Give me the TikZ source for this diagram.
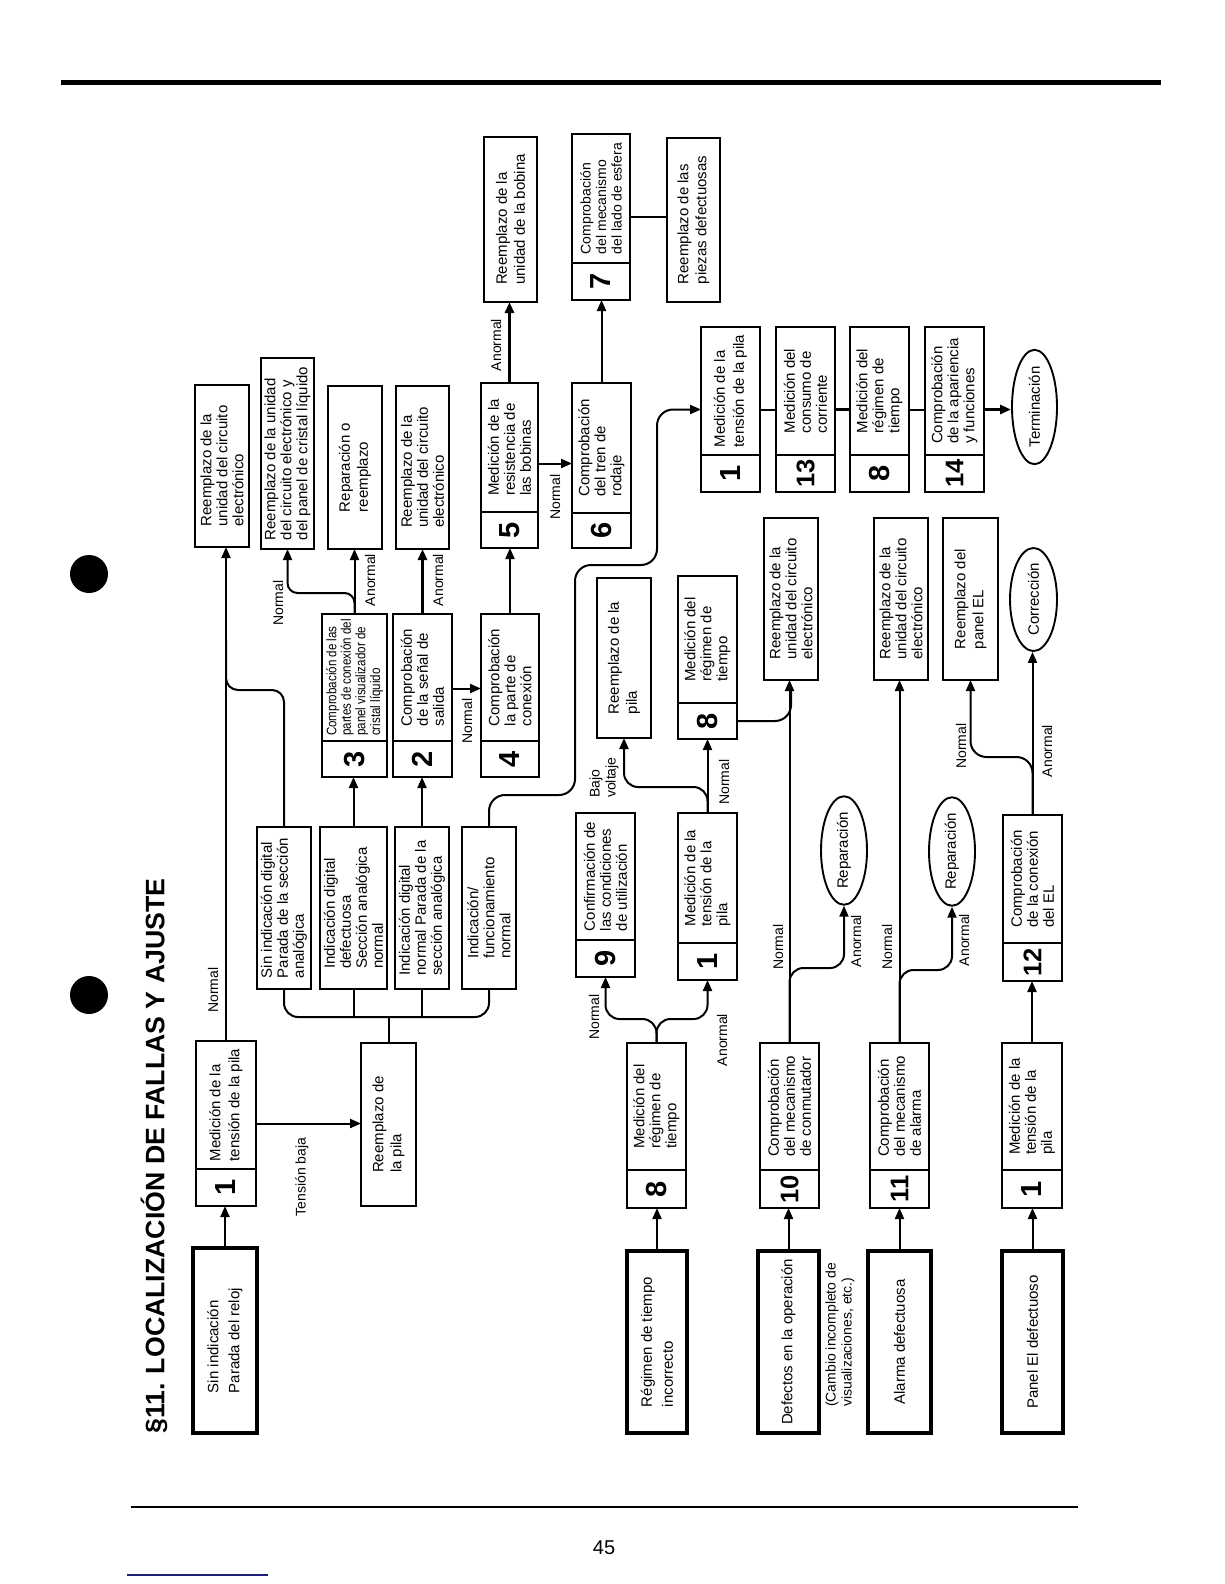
\documentclass[tikz,border=0pt]{standalone}
\usepackage{fontspec}
\setmainfont{Liberation Sans}
\newfontfamily\condf[FakeStretch=0.84]{Liberation Sans}
\usetikzlibrary{arrows.meta,calc,shapes.geometric}
\definecolor{navy}{RGB}{30,30,120}
% plain box: style, name, x1, x2, y1, y2 (page px), text
\newcommand\PB[7]{\node[#1, minimum width={#6-#5}, minimum height={#4-#3}] (#2) at ({-(#5+#6)/2},{-(#3+#4)/2}) {#7};}
% numbered box: name, x1, x2, y1, y2, ydiv, number, text, text style
\newcommand\NB[9]{%
  \node[box, minimum width={#5-#4}, minimum height={#3-#2}] (#1) at ({-(#4+#5)/2},{-(#2+#3)/2}) {};
  \draw[line width=1.9pt] ({-#6},{-#2}) -- ({-#6},{-#3});
  \node[numf] (#1-n) at ({-(#6+#5)/2},{-(#2+#3)/2}) {#7};
  \node[#9] (#1-t) at ({-(#4+#6)/2},{-(#2+#3)/2}) {#8};}
\newcommand\twod[1]{\fontsize{25.5}{26}\selectfont\bfseries #1}
\begin{document}
\begin{tikzpicture}[x=1pt,y=1pt,
  box/.style={draw, line width=1.9pt, rectangle, inner sep=0pt, outer sep=0pt},
  sbox/.style={box, line width=3.6pt, font=\fontsize{15}{21}\selectfont, align=left},
  pbox/.style={box, font=\fontsize{15}{16}\selectfont, align=left},
  pbox2/.style={box, font=\fontsize{15}{18}\selectfont, align=left},
  oval/.style={draw, ellipse, line width=1.9pt, inner sep=0pt, font=\fontsize{15}{16}\selectfont},
  numf/.style={font=\fontsize{29}{29}\selectfont\bfseries, inner sep=0pt},
  t3/.style={font=\fontsize{15}{16}\selectfont, align=left, inner sep=0pt},
  t3s/.style={font=\fontsize{14}{15.5}\selectfont, align=left, inner sep=0pt},
  t2/.style={font=\fontsize{15}{19}\selectfont, align=left, inner sep=0pt},
  tc/.style={font=\condf\fontsize{13.8}{14.6}\selectfont, align=left, inner sep=0pt},
  lab/.style={font=\fontsize{14}{16}\selectfont, inner sep=0pt, align=left},
  conn/.style={line width=2pt},
  arr/.style={conn, -{Triangle[length=11pt,width=9pt]}},
  conntk/.style={line width=3pt},
  arrtk/.style={conntk, -{Triangle[length=11pt,width=9pt]}}]
\fill[white] (0,0) rectangle (1224,-1584);
\useasboundingbox (0,0) rectangle (1224,-1584);
% page decorations
\draw[line width=5pt] (61,-83) -- (1161,-83);
\draw[line width=2.8pt] (131,-1507) -- (1078,-1507);
\node[font=\fontsize{20}{20}\selectfont] (pg) at (604,-1548) {45};
\draw[line width=1.5pt, navy] (127,-1575) -- (268,-1575);
\fill (89,-574) circle (19);
\fill (89,-995) circle (19);

\begin{scope}[rotate=90, transform shape]
\node[font=\fontsize{26.7}{28}\selectfont\bfseries] (title) at (-1156,-154) {§11.\hspace{9pt}LOCALIZACIÓN DE FALLAS Y AJUSTE};

% start boxes
\PB{sbox}{S1}{193}{257}{1248}{1433}{Sin indicación\\Parada del reloj}
\PB{sbox}{S2}{627}{687}{1251}{1433}{Régimen de tiempo\\incorrecto}
\PB{sbox}{S3}{758}{819}{1251}{1433}{Defectos en la operación}
\PB{sbox}{S4}{868}{931}{1251}{1433}{Alarma defectuosa}
\PB{sbox}{S5}{1002}{1063}{1251}{1433}{Panel El defectuoso}

% numbered boxes
\NB{N1a}{196}{256}{1041}{1206}{1169}{1}{Medición de la\\tensión de la pila}{t2}
\NB{N8a}{627}{686}{1043}{1208}{1170}{8}{Medición del\\régimen de\\tiempo}{t3}
\NB{N10}{760}{819}{1043}{1208}{1170}{\twod{10}}{Comprobación\\del mecanismo\\de conmutador}{t3}
\NB{N11}{870}{929}{1043}{1208}{1170}{\twod{11}}{Comprobación\\del mecanismo\\de alarma}{t3}
\NB{N1d}{1002}{1062}{1043}{1208}{1170}{1}{Medición de la\\tensión de la\\pila}{t3}
\NB{N9}{576}{635}{813}{977}{940}{9}{Confirmación de\\las condiciones\\de utilización}{t3}
\NB{N1c}{678}{737}{813}{980}{943}{1}{Medición de la\\tensión de la\\pila}{t3}
\NB{N12}{1003}{1062}{815}{981}{943}{\twod{12}}{Comprobación\\de la conexión\\del EL}{t3}
\NB{N8m}{678}{737}{576}{739}{703}{8}{Medición del\\régimen de\\tiempo}{t3}
\NB{N3}{322}{387}{614}{777}{741}{3}{Comprobación de las\\partes de conexión del\\panel visualizador de\\cristal líquido}{tc}
\NB{N2}{393}{452}{614}{777}{741}{2}{Comprobación\\de la señal de\\salida}{t3}
\NB{N4}{481}{539}{614}{777}{741}{4}{Comprobación\\la parte de\\conexión}{t3}
\NB{N5}{481}{538}{383}{548}{512}{5}{Medición de la\\resistencia de\\las bobinas}{t3}
\NB{N6}{572}{631}{383}{548}{513}{6}{Comprobación\\del tren de\\rodaje}{t3}
\NB{N7}{572}{630}{134}{300}{263}{7}{Comprobación\\del mecanismo\\del lado de esfera}{t3s}
\draw[line width=2.8pt] (N7.north west) rectangle (N7.south east);
\NB{N1b}{701}{760}{327}{492}{455}{1}{Medición de la\\tensión de la pila}{t2}
\NB{N13}{776}{835}{327}{492}{455}{\twod{13}}{Medición del\\consumo de\\corriente}{t3}
\NB{N8b}{850}{909}{327}{492}{455}{8}{Medición del\\régimen de\\tiempo}{t3}
\NB{N14}{925}{984}{327}{492}{455}{\twod{14}}{Comprobación\\de la apariencia\\y funciones}{t3}

% plain boxes
\PB{pbox2}{Rpila1}{361}{416}{1043}{1206}{Reemplazo de\\la pila}
\PB{pbox}{A}{257}{311}{827}{989}{Sin indicación digital\\Parada de la sección\\analógica}
\PB{pbox}{B}{320}{387}{827}{989}{Indicación digital\\defectuosa\\Sección analógica\\normal}
\PB{pbox}{C}{395}{449}{827}{989}{Indicación digital\\normal Parada de la\\sección analógica}
\PB{pbox}{D}{462}{516}{827}{989}{Indicación/\\funcionamiento\\normal}
\PB{pbox}{R1}{195}{249}{385}{547}{Reemplazo de la\\unidad del circuito\\electrónico}
\PB{pbox}{R2}{261}{314}{358}{549}{Reemplazo de la unidad\\del circuito electrónico y\\del panel de cristal líquido}
\PB{pbox2}{R3}{328}{382}{386}{549}{Reparación o\\reemplazo}
\PB{pbox}{R4}{396}{449}{386}{549}{Reemplazo de la\\unidad del circuito\\electrónico}
\PB{pbox2}{RB}{484}{537}{137}{302}{Reemplazo de la\\unidad de la bobina}
\PB{pbox2}{RP}{667}{720}{138}{302}{Reemplazo de las\\piezas defectuosas}
\PB{pbox2}{Rpila2}{597}{651}{578}{738}{Reemplazo de la\\pila}
\PB{pbox}{R5}{764}{818}{518}{680}{Reemplazo de la\\unidad del circuito\\electrónico}
\PB{pbox}{R6}{874}{928}{518}{680}{Reemplazo de la\\unidad del circuito\\electrónico}
\PB{pbox2}{R7}{943}{998}{518}{680}{Reemplazo del\\panel EL}

% ovals
\node[oval, minimum width=104, minimum height=45] (Term) at (-407,-1034.5) {Terminación};
\node[oval, minimum width=103, minimum height=47] (Corr) at (-599.5,-1033.5) {Corrección};
\node[oval, minimum width=95, minimum height=46] (Rep1) at (-850.5,-844) {Reparación};
\node[oval, minimum width=93, minimum height=46] (Rep2) at (-851.5,-952) {Reparación};

% connectors: first row
\draw[arr] (S1.east) -- (N1a.west |- S1.east);
\draw[arr] (N1a.east) -- (R1.west |- N1a.east);
\draw[arr] (N1a.south) -- (N1a.south |- Rpila1.north);
\coordinate (busL) at (-1017,-284);
\coordinate (busR) at (-1017,-489);
\draw[conn, rounded corners=14] (A.west) -- (busL) -- (busR) -- (D.west);
\draw[conn] (B.west) -- (busL |- B.west);
\draw[conn] (C.west) -- (busL |- C.west);
\draw[conn] (Rpila1.east) -- (busL |- Rpila1.east);
\draw[conn, rounded corners=12] (A.east) -- (-690,-284) -- (-690,-226) -- (-640,-226);
\draw[arr] (B.east) -- (N3.west |- B.east);
\draw[arr] (C.east) -- (N2.west |- C.east);
\draw[arr] (N3.east) -- (R3.west |- N3.east);
\draw[arr, rounded corners=10] (N3.east) -- (-593,-354.5) -- (-593,-287.5) -- (R2.west);
\draw[arrtk] (N2.east) -- (R4.west |- N2.east);
\draw[arr] ($(N2.south)+(7,0)$) -- ($(N4.north)+(7,0)$);
\draw[arr] (N4.east) -- (N5.west |- N4.east);
\draw[arrtk] (N5.east) -- (RB.west |- N5.east);
\draw[arr] ($(N5.south)+(2,0)$) -- ($(N6.north)+(2,0)$);
\draw[arr] (N6.east) -- (N7.west |- N6.east);
\draw[conn] (N7.south) -- (N7.south |- RP.north);
\draw[arr, rounded corners=16] (D.east) -- (-795,-489) -- (-795,-575) -- (-565,-575) -- (-565,-657) -- (-409.5,-657) -- (N1b.north);
\draw[conn] (N1b.south) -- (N13.north);
\draw[conntk] (N13.south) -- (N8b.north);
\draw[conn] (N8b.south) -- (N14.north);
\draw[arrtk] (N14.south) -- (N14.south |- Term.north);

% second row
\draw[arr] (S2.east) -- (N8a.west |- S2.east);
\draw[arr, rounded corners=14] (N8a.east) -- (-1019,-656.5) -- (-1019,-605.5) -- (N9.west);
\draw[arr, rounded corners=14] (N8a.east) -- (-1019,-656.5) -- (-1019,-707.5) -- (N1c.west);
\draw[arr] (N1c.east) -- (N8m.west |- N1c.east);
\draw[arr, rounded corners=14] (N1c.east) -- (-787,-707.5) -- (-787,-624) -- (Rpila2.west);
\draw[conn, rounded corners=16] ($(N8m.south west)+(18,0)$) -- (-721,-791) -- (-690,-791);

\draw[arr] (S3.east) -- (N10.west |- S3.east);
\draw[arr] (N10.east) -- (R5.west |- N10.east);
\draw[arr, rounded corners=14] (N10.east) -- (-968,-789.5) -- (-968,-844) -- (Rep1.west);

\draw[arr] (S4.east) -- (N11.west |- S4.east);
\draw[arr] (N11.east) -- (R6.west |- N11.east);
\draw[arr, rounded corners=14] (N11.east) -- (-970,-899.5) -- (-970,-952) -- (Rep2.west);

\draw[arr] (S5.east) -- (N1d.west |- S5.east);
\draw[arr] (N1d.east) -- (N12.west |- N1d.east);
\draw[arr] (N12.east) -- (Corr.west |- N12.east);
\draw[arr, rounded corners=16] (N12.east) -- (-757,-1032.5) -- (-757,-970.5) -- (R7.west);

% labels
\node[lab] (l1) at (-990,-213) {Normal};
\node[lab] (l2) at (-1177,-302) {Tensión baja};
\node[lab] (l3) at (-603,-278) {Normal};
\node[lab] (l4) at (-580,-370) {Anormal};
\node[lab] (l5) at (-580,-438) {Anormal};
\node[lab] (l6) at (-721,-467) {Normal};
\node[lab] (l7) at (-345,-496) {Anormal};
\node[lab] (l8) at (-497,-555) {Normal};
\node[lab, anchor=west] (l9) at (-798,-604) {Bajo\\voltaje};
\node[lab] (l10) at (-782,-724) {Normal};
\node[lab] (l11) at (-1017,-594) {Normal};
\node[lab] (l12) at (-1040,-722) {Anormal};
\node[lab] (l13) at (-947,-778) {Normal};
\node[lab] (l14) at (-941,-856) {Anormal};
\node[lab] (l15) at (-947,-887) {Normal};
\node[lab] (l16) at (-940,-964) {Anormal};
\node[lab] (l17) at (-746,-961) {Normal};
\node[lab] (l18) at (-751,-1047) {Anormal};
\node[lab, anchor=west] (l19) at (-1407,-840) {(Cambio incompleto de\\visualizaciones, etc.)};
\end{scope}
\end{tikzpicture}
\end{document}
